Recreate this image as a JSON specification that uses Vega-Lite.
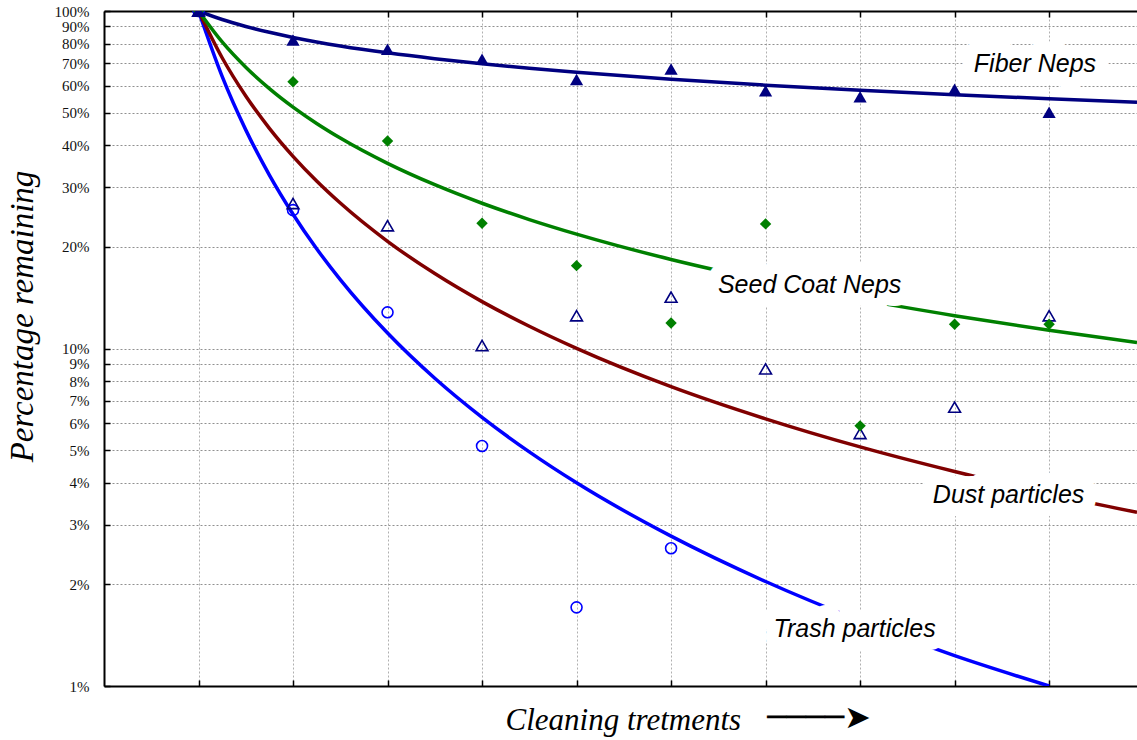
{
  "$schema": "https://vega.github.io/schema/vega-lite/v6.json",
  "width": 1033,
  "height": 675,
  "autosize": {"type": "none"},
  "padding": {"left": 104, "top": 11, "right": 0, "bottom": 54},
  "background": "white",
  "title": {
    "text": "────➤",
    "orient": "bottom",
    "anchor": "start",
    "frame": "group",
    "font": "DejaVu Sans",
    "fontSize": 32,
    "fontWeight": "normal",
    "color": "black",
    "dx": 663,
    "offset": -32
  },
  "config": {
    "view": {"stroke": null},
    "axis": {
      "domainColor": "black",
      "domainWidth": 2,
      "tickColor": "black",
      "tickWidth": 1.5,
      "labelFont": "Liberation Serif",
      "labelFontSize": 15,
      "labelColor": "#111111",
      "titleFont": "Liberation Serif",
      "titleFontStyle": "italic",
      "titleFontWeight": "normal",
      "titleFontSize": 31,
      "titleColor": "black"
    }
  },
  "datasets": {
    "points": [
      {"t": 0, "pct": 100, "series": "Trash particles"},
      {"t": 1, "pct": 25.7, "series": "Trash particles"},
      {"t": 2, "pct": 12.8, "series": "Trash particles"},
      {"t": 3, "pct": 5.14, "series": "Trash particles"},
      {"t": 4, "pct": 1.71, "series": "Trash particles"},
      {"t": 5, "pct": 2.56, "series": "Trash particles"},
      {"t": 0, "pct": 100, "series": "Dust particles"},
      {"t": 1, "pct": 26.9, "series": "Dust particles"},
      {"t": 2, "pct": 23.1, "series": "Dust particles"},
      {"t": 3, "pct": 10.2, "series": "Dust particles"},
      {"t": 4, "pct": 12.5, "series": "Dust particles"},
      {"t": 5, "pct": 14.2, "series": "Dust particles"},
      {"t": 6, "pct": 8.7, "series": "Dust particles"},
      {"t": 7, "pct": 5.6, "series": "Dust particles"},
      {"t": 8, "pct": 6.7, "series": "Dust particles"},
      {"t": 9, "pct": 12.5, "series": "Dust particles"},
      {"t": 0, "pct": 100, "series": "Seed Coat Neps"},
      {"t": 1, "pct": 61.7, "series": "Seed Coat Neps"},
      {"t": 2, "pct": 41.2, "series": "Seed Coat Neps"},
      {"t": 3, "pct": 23.5, "series": "Seed Coat Neps"},
      {"t": 4, "pct": 17.6, "series": "Seed Coat Neps"},
      {"t": 5, "pct": 11.9, "series": "Seed Coat Neps"},
      {"t": 6, "pct": 23.4, "series": "Seed Coat Neps"},
      {"t": 7, "pct": 5.9, "series": "Seed Coat Neps"},
      {"t": 8, "pct": 11.8, "series": "Seed Coat Neps"},
      {"t": 9, "pct": 11.8, "series": "Seed Coat Neps"},
      {"t": 0, "pct": 100, "series": "Fiber Neps"},
      {"t": 1, "pct": 82, "series": "Fiber Neps"},
      {"t": 2, "pct": 77, "series": "Fiber Neps"},
      {"t": 3, "pct": 72, "series": "Fiber Neps"},
      {"t": 4, "pct": 62.7, "series": "Fiber Neps"},
      {"t": 5, "pct": 67.3, "series": "Fiber Neps"},
      {"t": 6, "pct": 58, "series": "Fiber Neps"},
      {"t": 7, "pct": 55.7, "series": "Fiber Neps"},
      {"t": 8, "pct": 58.6, "series": "Fiber Neps"},
      {"t": 9, "pct": 50.1, "series": "Fiber Neps"}
    ],
    "curves": [
      {"t": 0, "pct": 100, "series": "Trash particles"},
      {"t": 0.25, "pct": 64, "series": "Trash particles"},
      {"t": 0.5, "pct": 44.44, "series": "Trash particles"},
      {"t": 0.75, "pct": 32.65, "series": "Trash particles"},
      {"t": 1, "pct": 25, "series": "Trash particles"},
      {"t": 1.25, "pct": 19.75, "series": "Trash particles"},
      {"t": 1.5, "pct": 16, "series": "Trash particles"},
      {"t": 2, "pct": 11.11, "series": "Trash particles"},
      {"t": 2.5, "pct": 8.16, "series": "Trash particles"},
      {"t": 3, "pct": 6.25, "series": "Trash particles"},
      {"t": 3.5, "pct": 4.94, "series": "Trash particles"},
      {"t": 4, "pct": 4, "series": "Trash particles"},
      {"t": 5, "pct": 2.78, "series": "Trash particles"},
      {"t": 6, "pct": 2.04, "series": "Trash particles"},
      {"t": 7, "pct": 1.56, "series": "Trash particles"},
      {"t": 8, "pct": 1.23, "series": "Trash particles"},
      {"t": 9, "pct": 1.0, "series": "Trash particles"},
      {"t": 0, "pct": 100, "series": "Dust particles"},
      {"t": 0.25, "pct": 72.68, "series": "Dust particles"},
      {"t": 0.5, "pct": 56.0, "series": "Dust particles"},
      {"t": 0.75, "pct": 44.92, "series": "Dust particles"},
      {"t": 1, "pct": 37.11, "series": "Dust particles"},
      {"t": 1.25, "pct": 31.36, "series": "Dust particles"},
      {"t": 1.5, "pct": 26.98, "series": "Dust particles"},
      {"t": 2, "pct": 20.78, "series": "Dust particles"},
      {"t": 2.5, "pct": 16.67, "series": "Dust particles"},
      {"t": 3, "pct": 13.77, "series": "Dust particles"},
      {"t": 3.5, "pct": 11.64, "series": "Dust particles"},
      {"t": 4, "pct": 10.01, "series": "Dust particles"},
      {"t": 5, "pct": 7.71, "series": "Dust particles"},
      {"t": 6, "pct": 6.19, "series": "Dust particles"},
      {"t": 7, "pct": 5.11, "series": "Dust particles"},
      {"t": 8, "pct": 4.32, "series": "Dust particles"},
      {"t": 9, "pct": 3.71, "series": "Dust particles"},
      {"t": 9.93, "pct": 3.27, "series": "Dust particles"},
      {"t": 0, "pct": 100, "series": "Seed Coat Neps"},
      {"t": 0.25, "pct": 80.97, "series": "Seed Coat Neps"},
      {"t": 0.5, "pct": 68.14, "series": "Seed Coat Neps"},
      {"t": 0.75, "pct": 58.9, "series": "Seed Coat Neps"},
      {"t": 1, "pct": 51.91, "series": "Seed Coat Neps"},
      {"t": 1.25, "pct": 46.43, "series": "Seed Coat Neps"},
      {"t": 1.5, "pct": 42.03, "series": "Seed Coat Neps"},
      {"t": 2, "pct": 35.37, "series": "Seed Coat Neps"},
      {"t": 2.5, "pct": 30.57, "series": "Seed Coat Neps"},
      {"t": 3, "pct": 26.94, "series": "Seed Coat Neps"},
      {"t": 3.5, "pct": 24.1, "series": "Seed Coat Neps"},
      {"t": 4, "pct": 21.82, "series": "Seed Coat Neps"},
      {"t": 5, "pct": 18.36, "series": "Seed Coat Neps"},
      {"t": 6, "pct": 15.87, "series": "Seed Coat Neps"},
      {"t": 7, "pct": 13.98, "series": "Seed Coat Neps"},
      {"t": 8, "pct": 12.51, "series": "Seed Coat Neps"},
      {"t": 9, "pct": 11.32, "series": "Seed Coat Neps"},
      {"t": 9.93, "pct": 10.41, "series": "Seed Coat Neps"},
      {"t": 0, "pct": 100, "series": "Fiber Neps"},
      {"t": 0.25, "pct": 94.36, "series": "Fiber Neps"},
      {"t": 0.5, "pct": 90.0, "series": "Fiber Neps"},
      {"t": 0.75, "pct": 86.46, "series": "Fiber Neps"},
      {"t": 1, "pct": 83.51, "series": "Fiber Neps"},
      {"t": 1.25, "pct": 80.99, "series": "Fiber Neps"},
      {"t": 1.5, "pct": 78.8, "series": "Fiber Neps"},
      {"t": 2, "pct": 75.16, "series": "Fiber Neps"},
      {"t": 2.5, "pct": 72.2, "series": "Fiber Neps"},
      {"t": 3, "pct": 69.74, "series": "Fiber Neps"},
      {"t": 3.5, "pct": 67.63, "series": "Fiber Neps"},
      {"t": 4, "pct": 65.81, "series": "Fiber Neps"},
      {"t": 5, "pct": 62.76, "series": "Fiber Neps"},
      {"t": 6, "pct": 60.29, "series": "Fiber Neps"},
      {"t": 7, "pct": 58.24, "series": "Fiber Neps"},
      {"t": 8, "pct": 56.48, "series": "Fiber Neps"},
      {"t": 9, "pct": 54.95, "series": "Fiber Neps"},
      {"t": 9.93, "pct": 53.7, "series": "Fiber Neps"}
    ],
    "labels": [
      {"label": "Fiber Neps", "t": 8.85, "pct": 66.1},
      {"label": "Seed Coat Neps", "t": 6.466, "pct": 14.6},
      {"label": "Dust particles", "t": 8.571, "pct": 3.49},
      {"label": "Trash particles", "t": 6.942, "pct": 1.394}
    ]
  },
  "resolve": {"axis": {"x": "independent"}},
  "layer": [
    {
      "data": {"name": "curves"},
      "mark": {"type": "line", "strokeWidth": 3.5, "interpolate": "monotone", "clip": true},
      "encoding": {
        "x": {
          "field": "t", "type": "quantitative",
          "scale": {"domain": [-1, 9.93], "nice": false, "zero": false},
          "axis": {
            "orient": "bottom",
            "values": [0, 1, 2, 3, 4, 5, 6, 7, 8, 9],
            "labels": false,
            "tickSize": -6,
            "grid": true,
            "gridColor": "#b0b0b0",
            "gridDash": [2, 2],
            "gridWidth": 1,
            "title": "Cleaning tretments",
            "titleAlign": "left",
            "titleAnchor": "start",
            "titleX": 401,
            "titleY": 43,
            "titleBaseline": "alphabetic"
          }
        },
        "y": {
          "field": "pct", "type": "quantitative",
          "scale": {"type": "log", "domain": [1, 100], "nice": false},
          "axis": {
            "orient": "left",
            "values": [1, 2, 3, 4, 5, 6, 7, 8, 9, 10, 20, 30, 40, 50, 60, 70, 80, 90, 100],
            "labelExpr": "datum.value + '%'",
            "tickSize": -6,
            "labelPadding": 21,
            "grid": true,
            "gridColor": "#909090",
            "gridDash": [2, 2],
            "gridWidth": 1,
            "title": "Percentage remaining",
            "titleFontSize": 33,
            "titleX": -82,
            "titleY": 305,
            "titleAngle": -90,
            "titleAlign": "center",
            "titleBaseline": "middle"
          }
        },
        "color": {
          "field": "series", "type": "nominal",
          "scale": {
            "domain": ["Fiber Neps", "Seed Coat Neps", "Dust particles", "Trash particles"],
            "range": ["#000080", "#008000", "#800000", "#0000ff"]
          },
          "legend": null
        }
      }
    },
    {
      "data": {"name": "curves"},
      "mark": {"type": "line", "strokeWidth": 0, "opacity": 0},
      "encoding": {
        "x": {
          "field": "t", "type": "quantitative",
          "axis": {
            "orient": "top",
            "values": [0, 1, 2, 3, 4, 5, 6, 7, 8, 9],
            "labels": false,
            "tickSize": -6,
            "grid": false,
            "title": null
          }
        },
        "y": {"field": "pct", "type": "quantitative"},
        "detail": {"field": "series"}
      }
    },
    {
      "data": {"name": "labels"},
      "mark": {
        "type": "text", "align": "center", "baseline": "alphabetic",
        "font": "Liberation Sans", "fontStyle": "italic", "fontSize": 25,
        "fill": "white", "stroke": "white", "strokeWidth": 26, "strokeJoin": "round"
      },
      "encoding": {
        "x": {"field": "t", "type": "quantitative", "axis": null},
        "y": {"field": "pct", "type": "quantitative"},
        "text": {"field": "label"}
      }
    },
    {
      "data": {"name": "labels"},
      "mark": {
        "type": "text", "align": "center", "baseline": "alphabetic",
        "font": "Liberation Sans", "fontStyle": "italic", "fontSize": 25,
        "fill": "black"
      },
      "encoding": {
        "x": {"field": "t", "type": "quantitative", "axis": null},
        "y": {"field": "pct", "type": "quantitative"},
        "text": {"field": "label"}
      }
    },
    {
      "data": {"name": "points"},
      "transform": [{"filter": "datum.series === 'Trash particles'"}],
      "mark": {"type": "point", "shape": "circle", "filled": false, "stroke": "#0000ff", "strokeWidth": 1.6, "size": 120, "opacity": 1, "clip": true},
      "encoding": {
        "x": {"field": "t", "type": "quantitative", "axis": null},
        "y": {"field": "pct", "type": "quantitative"}
      }
    },
    {
      "data": {"name": "points"},
      "transform": [{"filter": "datum.series === 'Dust particles'"}],
      "mark": {"type": "point", "shape": "triangle-up", "filled": false, "stroke": "#000080", "strokeWidth": 1.6, "size": 140, "opacity": 1, "clip": true},
      "encoding": {
        "x": {"field": "t", "type": "quantitative", "axis": null},
        "y": {"field": "pct", "type": "quantitative"}
      }
    },
    {
      "data": {"name": "points"},
      "transform": [{"filter": "datum.series === 'Seed Coat Neps'"}],
      "mark": {"type": "point", "shape": "diamond", "filled": true, "fill": "#008000", "size": 130, "opacity": 1, "clip": true},
      "encoding": {
        "x": {"field": "t", "type": "quantitative", "axis": null},
        "y": {"field": "pct", "type": "quantitative"}
      }
    },
    {
      "data": {"name": "points"},
      "transform": [{"filter": "datum.series === 'Fiber Neps'"}],
      "mark": {"type": "point", "shape": "triangle-up", "filled": true, "fill": "#000080", "size": 175, "opacity": 1, "clip": true},
      "encoding": {
        "x": {"field": "t", "type": "quantitative", "axis": null},
        "y": {"field": "pct", "type": "quantitative"}
      }
    }
  ]
}
